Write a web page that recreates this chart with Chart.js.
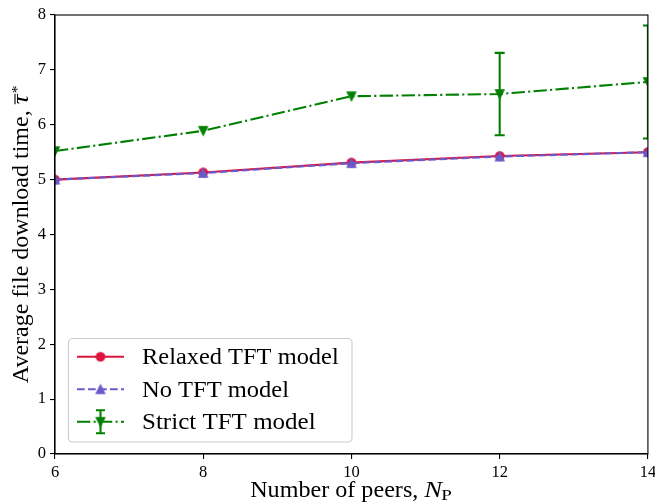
<!DOCTYPE html>
<html><head><meta charset="utf-8">
<script src="https://cdn.jsdelivr.net/npm/chart.js@4.4.1/dist/chart.umd.min.js"></script>
<style>html,body{margin:0;padding:0;background:#fff;}#wrap{width:655px;height:503px;}</style>
</head><body><div id="wrap"><canvas id="c" width="655" height="503"></canvas></div>
<script>
// ---- data ----
const peers = [6, 8, 10, 12, 14];
const relaxedTFT = [5.00, 5.13, 5.31, 5.43, 5.50];
const noTFT = [5.00, 5.12, 5.30, 5.42, 5.50];
const strictTFT = [5.52, 5.89, 6.52, 6.56, 6.78];
const strictErr = [0, 0, 0, 0.75, 1.03];
const xTicks = [6, 8, 10, 12, 14];
const yTicks = [0, 1, 2, 3, 4, 5, 6, 7, 8];
const seriesNames = ['Relaxed TFT model', 'No TFT model', 'Strict TFT model'];
const xTitleText = 'Number of peers, ';
const xTitleSym = 'N';
const xTitleSub = 'P';
const yTitleText = 'Average file download time, ';
const yTitleSym = '\u03C4';
const yTitleSup = '*';

// ---- style ----
const FONT = 'Liberation Serif';
const LW = 2.08;
const colors = ['#DC143C', '#6A5ACD', '#008000'];
const dashes = [[], [7.7, 3.3], [13.3, 3.3, 2.1, 3.3]];
const LABEL_PX = 22.2;
const EM_W = { // target widths (in em) of label strings
  'Relaxed TFT model': 8.86, 'No TFT model': 6.624, 'Strict TFT model': 7.822,
  'Number of peers, ': 7.844, 'Average file download time, ': 12.558
};

function makeMarker(shape, color) {
  const c = document.createElement('canvas');
  c.width = 14; c.height = 14;
  const g = c.getContext('2d');
  const r = 4.17;
  g.fillStyle = color; g.strokeStyle = color; g.lineWidth = 1.39; g.lineJoin = 'miter';
  g.beginPath();
  if (shape === 'circle') {
    g.arc(7, 7, r, 0, Math.PI * 2);
  } else if (shape === 'up') {
    g.moveTo(7, 7 - r); g.lineTo(7 - r, 7 + r); g.lineTo(7 + r, 7 + r); g.closePath();
  } else {
    g.moveTo(7, 7 + r); g.lineTo(7 - r, 7 - r); g.lineTo(7 + r, 7 - r); g.closePath();
  }
  g.fill(); g.stroke();
  return c;
}
const markers = [makeMarker('circle', colors[0]), makeMarker('up', colors[1]), makeMarker('down', colors[2])];

function stretchText(ctx, str, x, y, font, targetW) {
  ctx.font = font;
  const w = ctx.measureText(str).width;
  const s = targetW / w;
  ctx.save(); ctx.translate(x, y); ctx.scale(s, 1);
  ctx.textAlign = 'left'; ctx.textBaseline = 'alphabetic';
  ctx.fillText(str, 0, 0); ctx.restore();
  return targetW;
}

const decorPlugin = {
  id: 'decor',
  afterDatasetsDraw(chart) {
    const ctx = chart.ctx, a = chart.chartArea;
    const xs = chart.scales.x, ys = chart.scales.y;
    // error bars
    ctx.save();
    ctx.beginPath(); ctx.rect(a.left, a.top, a.right - a.left, a.bottom - a.top); ctx.clip();
    ctx.strokeStyle = colors[2]; ctx.lineWidth = LW; ctx.setLineDash([]);
    for (let i = 0; i < peers.length; i++) {
      if (!strictErr[i]) continue;
      const x = xs.getPixelForValue(peers[i]);
      const y1 = ys.getPixelForValue(strictTFT[i] + strictErr[i]);
      const y2 = ys.getPixelForValue(strictTFT[i] - strictErr[i]);
      ctx.beginPath();
      ctx.moveTo(x, y1); ctx.lineTo(x, y2);
      ctx.moveTo(x - 5, y1); ctx.lineTo(x + 5, y1);
      ctx.moveTo(x - 5, y2); ctx.lineTo(x + 5, y2);
      ctx.stroke();
    }
    ctx.restore();
    // spines
    ctx.save();
    ctx.strokeStyle = '#000'; ctx.lineWidth = 1.1;
    ctx.strokeRect(a.left, a.top, a.right - a.left, a.bottom - a.top);
    ctx.restore();
  },
  afterDraw(chart) {
    const ctx = chart.ctx, a = chart.chartArea;
    // legend
    ctx.save();
    const bx = 68.5, by = 338.5, bw = 283.5, bh = 103.5;
    ctx.beginPath(); ctx.roundRect(bx, by, bw, bh, 4);
    ctx.fillStyle = 'rgba(255,255,255,0.8)'; ctx.fill();
    ctx.strokeStyle = '#cccccc'; ctx.lineWidth = 1.1; ctx.stroke();
    ctx.fillStyle = '#000';
    for (let i = 0; i < 3; i++) {
      const base = 364.3 + i * 32.5;
      const ly = base - 7.5;
      ctx.strokeStyle = colors[i]; ctx.lineWidth = LW; ctx.setLineDash(dashes[i]);
      ctx.beginPath(); ctx.moveTo(77, ly); ctx.lineTo(124, ly); ctx.stroke();
      ctx.setLineDash([]);
      if (i === 2) {
        ctx.beginPath();
        ctx.moveTo(100.5, ly - 11.5); ctx.lineTo(100.5, ly + 11.5);
        ctx.moveTo(96, ly - 11.5); ctx.lineTo(105, ly - 11.5);
        ctx.moveTo(96, ly + 11.5); ctx.lineTo(105, ly + 11.5);
        ctx.stroke();
      }
      ctx.drawImage(markers[i], 100.5 - 7, ly - 7);
      ctx.fillStyle = '#000';
      stretchText(ctx, seriesNames[i], 142, base, LABEL_PX + 'px "' + FONT + '"', EM_W[seriesNames[i]] * LABEL_PX);
    }
    ctx.restore();

    // x title
    ctx.save();
    ctx.fillStyle = '#000';
    const wMain = EM_W[xTitleText] * LABEL_PX;
    const wN = 0.803 * LABEL_PX, wP = 0.681 * 0.7 * LABEL_PX;
    const total = wMain + wN + wP;
    let x0 = (a.left + a.right) / 2 - total / 2;
    const bl = 497;
    stretchText(ctx, xTitleText, x0, bl, LABEL_PX + 'px "' + FONT + '"', wMain);
    stretchText(ctx, xTitleSym, x0 + wMain, bl, 'italic ' + LABEL_PX + 'px "' + FONT + '"', wN);
    stretchText(ctx, xTitleSub, x0 + wMain + wN - 1, bl + 3.3, (LABEL_PX * 0.7) + 'px "' + FONT + '"', wP);
    ctx.restore();

    // y title (rotated)
    ctx.save();
    ctx.fillStyle = '#000';
    const yc = (a.top + a.bottom) / 2;
    ctx.translate(28, yc); ctx.rotate(-Math.PI / 2);
    const wA = EM_W[yTitleText] * LABEL_PX, wT = 0.437 * LABEL_PX + 1, wS = 0.5 * 0.7 * LABEL_PX;
    const tot = wA + wT + wS;
    const s0 = -tot / 2;
    stretchText(ctx, yTitleText, s0, 0, LABEL_PX + 'px "' + FONT + '"', wA);
    stretchText(ctx, yTitleSym, s0 + wA, 0, 'italic ' + LABEL_PX + 'px "' + FONT + '"', wT - 1);
    ctx.strokeStyle = '#000'; ctx.lineWidth = 1.1;
    ctx.beginPath(); ctx.moveTo(s0 + wA, -13); ctx.lineTo(s0 + wA + wT, -13); ctx.stroke();
    stretchText(ctx, yTitleSup, s0 + wA + wT + 0.5, -6, (LABEL_PX * 0.7) + 'px "' + FONT + '"', wS);
    ctx.restore();
  }
};

const mk = (vals) => peers.map((p, i) => ({ x: p, y: vals[i] }));
const seriesVals = [relaxedTFT, noTFT, strictTFT];
const orders = [3, 2, 1];

new Chart(document.getElementById('c'), {
  type: 'line',
  data: {
    datasets: seriesVals.map((vals, i) => ({
      label: seriesNames[i],
      data: mk(vals),
      borderColor: colors[i],
      backgroundColor: colors[i],
      borderWidth: LW,
      borderDash: dashes[i],
      borderCapStyle: 'butt',
      borderJoinStyle: 'round',
      pointStyle: markers[i],
      pointRadius: 5,
      pointHoverRadius: 5,
      tension: 0,
      fill: false,
      clip: 0,
      order: orders[i]
    }))
  },
  options: {
    responsive: false,
    devicePixelRatio: 1,
    animation: false,
    events: [],
    layout: { padding: { left: 0, top: 15, right: 7, bottom: 0 } },
    plugins: { legend: { display: false }, tooltip: { enabled: false }, title: { display: false } },
    scales: {
      x: {
        type: 'linear', min: 6, max: 14,
        afterBuildTicks: s => { s.ticks = xTicks.map(v => ({ value: v })); },
        afterFit: s => { s.height = 49; s.paddingLeft = 0; s.paddingRight = 0; },
        grid: { display: true, drawOnChartArea: false, drawTicks: true, tickLength: 5, color: '#000', lineWidth: 1.1 },
        border: { display: true, color: '#000', width: 1.1 },
        ticks: { font: { family: FONT, size: 16.5 }, color: '#000', padding: 4, maxRotation: 0, autoSkip: false }
      },
      y: {
        type: 'linear', min: 0, max: 8,
        afterBuildTicks: s => { s.ticks = yTicks.map(v => ({ value: v })); },
        afterFit: s => { s.width = 55; s.paddingTop = 0; s.paddingBottom = 0; },
        grid: { display: true, drawOnChartArea: false, drawTicks: true, tickLength: 5, color: '#000', lineWidth: 1.1 },
        border: { display: true, color: '#000', width: 1.1 },
        ticks: { font: { family: FONT, size: 16.5 }, color: '#000', padding: 4, autoSkip: false }
      }
    }
  },
  plugins: [decorPlugin]
});
</script>
</body></html>
